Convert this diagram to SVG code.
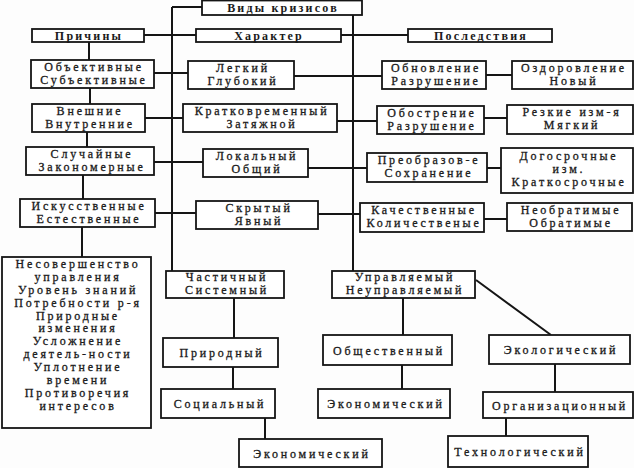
<svg xmlns="http://www.w3.org/2000/svg" width="634" height="468" viewBox="0 0 634 468">
<style>
.bg{fill:#fdfdfd}
.box{fill:#ffffff;stroke:#151515;stroke-width:1.8}
.ln{stroke:#151515;stroke-width:2;fill:none}
text{font-family:"Liberation Serif","Times New Roman",serif;font-size:12px;fill:#1a1a1a;stroke:#1a1a1a;stroke-width:0.3;text-anchor:middle;letter-spacing:2.8px}
.h{font-weight:bold;font-size:12px;letter-spacing:2.2px;stroke-width:0}
</style>
<rect class="bg" x="0" y="0" width="634" height="468"/>
<g id="connectors">
<path class="ln" d="M172,7 H202 M172,7 V271 M353,15 V271"/>
<path class="ln" d="M144,35 H196 M341,35 H408"/>
<path class="ln" d="M89,42 V60 M90,88 V104 M87,132 V147 M83,175 V199 M82,227 V257"/>
<path class="ln" d="M154,73 H188 M145,118 H183 M154,162 H203 M155,213 H196"/>
<path class="ln" d="M294,76 H382 M337,121 H377 M308,168 H367 M318,214 H360"/>
<path class="ln" d="M486,75 H512 M484,118 H507 M487,168 H501 M484,219 H507"/>
<path class="ln" d="M234,298 V338 M233,367 V389 M265,418 V439"/>
<path class="ln" d="M403,298 V335 M402,365 V389 M476,280 L551,335 M555,364 V392 M506,418 V436"/>
</g>
<g id="vidy"><rect class="box" x="202" y="0.5" width="160" height="14.5"/><text class="h" x="283" y="12">Виды кризисов</text></g>
<g id="prichiny"><rect class="box" x="32" y="29" width="112" height="13"/><text class="h" x="89" y="40">Причины</text></g>
<g id="harakter"><rect class="box" x="196" y="29" width="145" height="13"/><text class="h" x="269" y="40">Характер</text></g>
<g id="posledstviya"><rect class="box" x="408" y="29" width="144" height="13"/><text class="h" x="481" y="40">Последствия</text></g>

<g id="obektivnye"><rect class="box" x="31" y="60" width="123" height="28"/><text x="94" y="71">Объективные</text><text x="94" y="84">Субъективные</text></g>
<g id="vneshnie"><rect class="box" x="32" y="104" width="113" height="28"/><text x="90" y="115">Внешние</text><text x="90" y="128">Внутренние</text></g>
<g id="sluchainye"><rect class="box" x="26" y="147" width="128" height="28"/><text x="92" y="158">Случайные</text><text x="92" y="171">Закономерные</text></g>
<g id="iskusstvennye"><rect class="box" x="20" y="199" width="135" height="28"/><text x="89" y="210">Искусственные</text><text x="89" y="223">Естественные</text></g>
<g id="nesovershenstvo"><rect class="box" x="2" y="257" width="149" height="171"/>
<text x="78" y="267.5">Несовершенство</text>
<text x="78" y="280.5">управления</text>
<text x="78" y="293.5">Уровень знаний</text>
<text x="78" y="306.5">Потребности р-я</text>
<text x="78" y="319.5">Природные</text>
<text x="78" y="332">изменения</text>
<text x="78" y="344.5">Усложнение</text>
<text x="78" y="357.5">деятель-ности</text>
<text x="78" y="370.5">Уплотнение</text>
<text x="78" y="383.5">времени</text>
<text x="78" y="396.5">Противоречия</text>
<text x="78" y="409.5">интересов</text>
</g>

<g id="legkiy"><rect class="box" x="188" y="61" width="106" height="28"/><text x="243" y="72">Легкий</text><text x="243" y="85">Глубокий</text></g>
<g id="kratkovremenny"><rect class="box" x="183" y="104" width="154" height="28"/><text x="262" y="115">Кратковременный</text><text x="262" y="128">Затяжной</text></g>
<g id="lokalny"><rect class="box" x="203" y="149" width="105" height="28"/><text x="257" y="160">Локальный</text><text x="257" y="173">Общий</text></g>
<g id="skryty"><rect class="box" x="196" y="201" width="122" height="28"/><text x="259" y="212">Скрытый</text><text x="259" y="225">Явный</text></g>

<g id="obnovlenie"><rect class="box" x="382" y="61" width="104" height="28"/><text x="436" y="72">Обновление</text><text x="436" y="85">Разрушение</text></g>
<g id="ozdorovlenie"><rect class="box" x="512" y="61" width="121" height="28"/><text x="574" y="72">Оздоровление</text><text x="574" y="85">Новый</text></g>
<g id="obostrenie"><rect class="box" x="377" y="106" width="107" height="28"/><text x="432" y="117">Обострение</text><text x="432" y="130">Разрушение</text></g>
<g id="rezkie"><rect class="box" x="507" y="105" width="126" height="29"/><text x="572" y="116">Резкие изм-я</text><text x="572" y="129">Мягкий</text></g>
<g id="preobrazov"><rect class="box" x="367" y="153" width="120" height="29"/><text x="429" y="164">Преобразов-е</text><text x="429" y="177">Сохранение</text></g>
<g id="dogosrochnye"><rect class="box" x="501" y="148" width="132" height="45"/><text x="569" y="159.5">Догосрочные</text><text x="569" y="172.5">изм.</text><text x="569" y="185.5">Краткосрочные</text></g>
<g id="kachestvennye"><rect class="box" x="360" y="203" width="124" height="29"/><text x="424" y="214">Качественные</text><text x="424" y="227">Количественые</text></g>
<g id="neobratimye"><rect class="box" x="507" y="203" width="125" height="28"/><text x="571" y="214">Необратимые</text><text x="571" y="227">Обратимые</text></g>

<g id="chastichny"><rect class="box" x="166" y="271" width="118" height="27"/><text x="227" y="281">Частичный</text><text x="227" y="294">Системный</text></g>
<g id="upravlyaemy"><rect class="box" x="332" y="271" width="143" height="27"/><text x="405" y="281">Управляемый</text><text x="405" y="294">Неуправляемый</text></g>
<g id="prirodny"><rect class="box" x="163" y="338" width="115" height="29"/><text x="222" y="357">Природный</text></g>
<g id="socialny"><rect class="box" x="161" y="389" width="114" height="29"/><text x="220" y="408">Социальный</text></g>
<g id="ekonomicheskiy1"><rect class="box" x="239" y="439" width="143" height="28"/><text x="312" y="457.5">Экономический</text></g>
<g id="obshchestvenny"><rect class="box" x="323" y="335" width="129" height="30"/><text x="389" y="354.5">Общественный</text></g>
<g id="ekonomicheskiy2"><rect class="box" x="318" y="389" width="132" height="29"/><text x="386" y="408">Экономический</text></g>
<g id="ekologicheskiy"><rect class="box" x="489" y="335" width="141" height="29"/><text x="561" y="354">Экологический</text></g>
<g id="organizacionny"><rect class="box" x="483" y="392" width="150" height="26"/><text x="560" y="409.5">Организационный</text></g>
<g id="tehnologicheskiy"><rect class="box" x="448" y="436" width="140" height="31"/><text x="520" y="456">Технологический</text></g>
</svg>
